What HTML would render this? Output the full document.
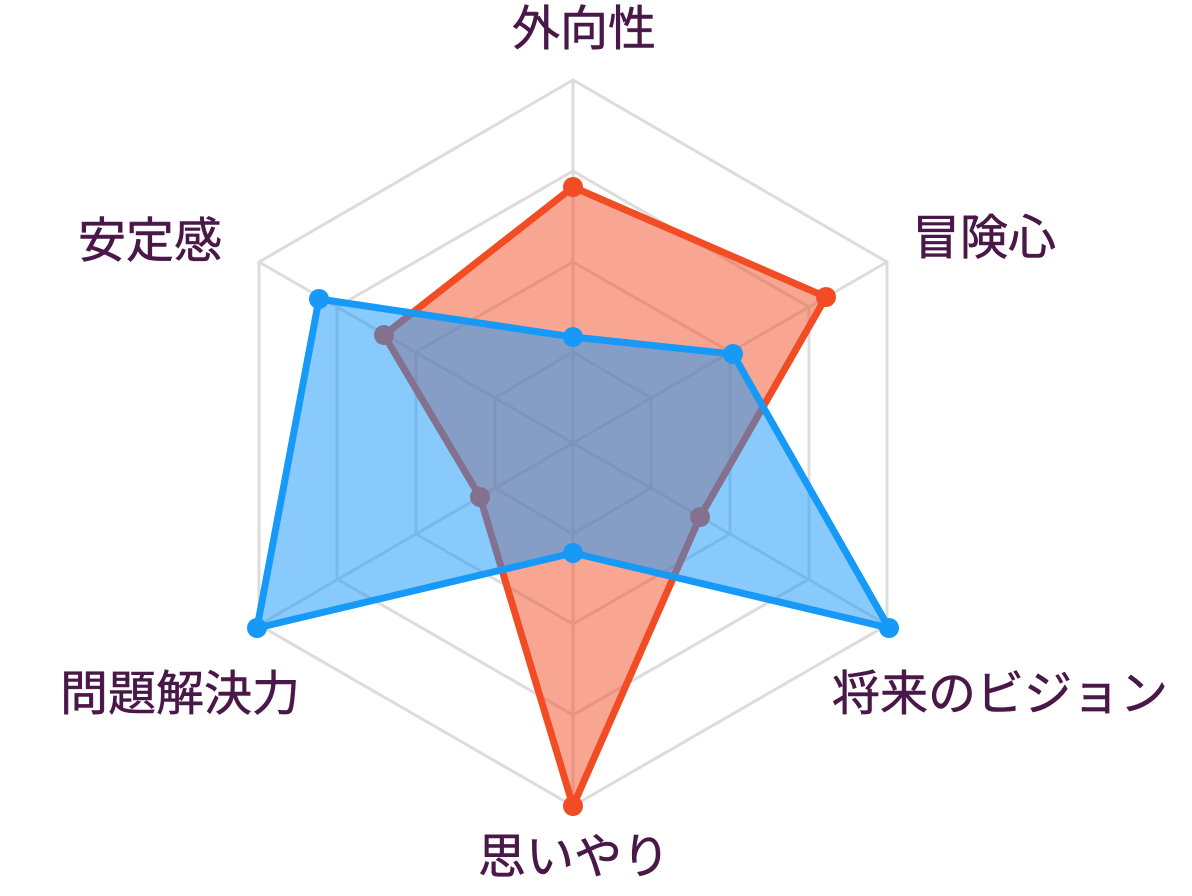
<!DOCTYPE html>
<html><head><meta charset="utf-8"><style>
html,body{margin:0;padding:0;background:#fff;}
svg text{font-family:"Liberation Sans","Noto Sans CJK JP",sans-serif;font-size:48px;fill:#4a1848;stroke:#4a1848;stroke-width:0.6px;}
</style></head><body>
<svg width="1192" height="891" viewBox="0 0 1192 891" xmlns="http://www.w3.org/2000/svg">
<g fill="none" stroke="#dcdcdc" stroke-width="3">
<polygon points="573,80 887,262 887,625 573,806 259,625 259,262"/>
<polygon points="573,171 809,307 809,579 573,715 337,579 337,307"/>
<polygon points="573,262 730,352 730,534 573,624 416,534 416,352"/>
<polygon points="573,352 651,398 651,488 573,534 495,488 495,398"/>
<line x1="573" y1="443" x2="573" y2="80"/>
<line x1="573" y1="443" x2="887" y2="262"/>
<line x1="573" y1="443" x2="887" y2="625"/>
<line x1="573" y1="443" x2="573" y2="806"/>
<line x1="573" y1="443" x2="259" y2="625"/>
<line x1="573" y1="443" x2="259" y2="262"/>
</g>
<polygon points="573,187 826,297 700,517 573,806 480,497 384,335" fill="rgba(242,76,36,0.5)" stroke="#f24c24" stroke-width="7" stroke-linejoin="round"/>
<g fill="#f24c24">
<circle cx="573" cy="187" r="10"/><circle cx="826" cy="297" r="10"/><circle cx="700" cy="517" r="10"/>
<circle cx="573" cy="806" r="10"/><circle cx="480" cy="497" r="10"/><circle cx="384" cy="335" r="10"/>
</g>
<polygon points="573,337 733,354 889,628 573,553 257,628 319,299" fill="rgba(20,150,250,0.5)" stroke="none"/>
<polygon points="573,337 733,354 889,628 573,553 257,628 319,299" fill="none" stroke="#1799f8" stroke-width="7" stroke-linejoin="round"/>
<g fill="#1799f8">
<circle cx="573" cy="337" r="10"/><circle cx="733" cy="354" r="10"/><circle cx="889" cy="628" r="10"/>
<circle cx="573" cy="553" r="10"/><circle cx="257" cy="628" r="10"/><circle cx="319" cy="299" r="10"/>
</g>
<text x="584" y="45" text-anchor="middle">外向性</text>
<text x="912" y="254">冒険心</text>
<text x="78" y="257">安定感</text>
<text x="832" y="710">将来のビジョン</text>
<text x="60" y="710">問題解決力</text>
<text x="574" y="873" text-anchor="middle">思いやり</text>
</svg>
</body></html>
